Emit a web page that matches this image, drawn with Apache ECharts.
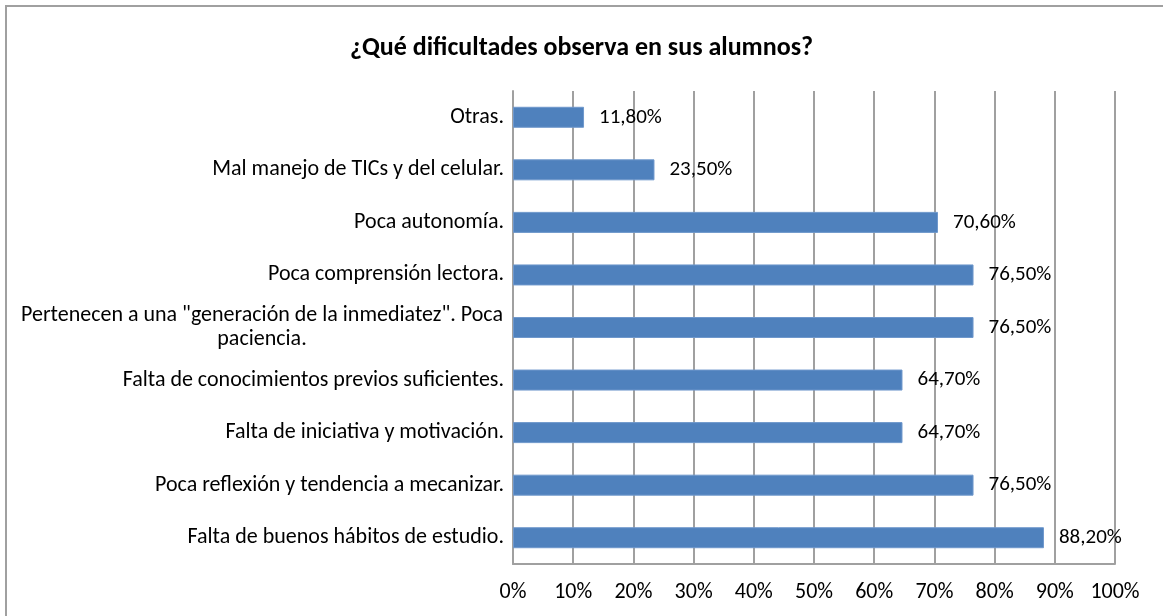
<!DOCTYPE html>
<html>
<head>
<meta charset="utf-8">
<script src="https://cdn.jsdelivr.net/npm/echarts@6/dist/echarts.min.js"></script>
<style>
  html, body { margin: 0; padding: 0; background: #fff; }
  #chart { width: 1163px; height: 616px; }
</style>
</head>
<body>
<div id="chart"></div>
<script>
// categorias de arriba hacia abajo
var categorias = [
  'Otras.',
  'Mal manejo de TICs y del celular.',
  'Poca autonomía.',
  'Poca comprensión lectora.',
  'Pertenecen a una "generación de la inmediatez". Poca\npaciencia.',
  'Falta de conocimientos previos suficientes.',
  'Falta de iniciativa y motivación.',
  'Poca reflexión y tendencia a mecanizar.',
  'Falta de buenos hábitos de estudio.'
];
var porcentajes = [11.8, 23.5, 70.6, 76.5, 76.5, 64.7, 64.7, 76.5, 88.2];
var ticksX = [0, 10, 20, 30, 40, 50, 60, 70, 80, 90, 100];

var fuente = 'Calibri, Carlito, Lato, sans-serif';
var chart = echarts.init(document.getElementById('chart'));

chart.setOption({
  animation: false,
  textStyle: { fontFamily: fuente },
  title: {
    text: '¿Qué dificultades observa en sus alumnos?',
    left: 'center',
    top: 30,
    textStyle: { fontFamily: fuente, fontSize: 26, fontWeight: 'bold', color: '#000' }
  },
  graphic: [{
    type: 'rect',
    shape: { x: 6, y: 6, width: 1180, height: 640 },
    style: { fill: 'none', stroke: '#a0a0a0', lineWidth: 2 }
  }],
  grid: { left: 513, right: 48, top: 91, bottom: 52 },
  xAxis: {
    type: 'value',
    min: ticksX[0],
    max: ticksX[ticksX.length - 1],
    interval: 10,
    axisLine: { show: true, lineStyle: { color: '#a0a0a0', width: 2 } },
    axisTick: { show: false },
    splitLine: { show: true, lineStyle: { color: '#a0a0a0', width: 2 } },
    axisLabel: {
      margin: 17,
      fontSize: 22,
      color: '#000',
      fontFamily: fuente,
      formatter: function (v) { return v + '%'; }
    }
  },
  yAxis: {
    type: 'category',
    inverse: true,
    data: categorias,
    axisLine: { show: true, lineStyle: { color: '#a0a0a0', width: 2 } },
    axisTick: { show: false },
    axisLabel: {
      margin: 9,
      fontSize: 22,
      color: '#000',
      fontFamily: fuente,
      lineHeight: 24,
      formatter: function (v) {
        if (v.indexOf('\n') < 0) return v;
        return v.split('\n').map(function (l) { return '{c|' + l + '}'; }).join('\n');
      },
      rich: {
        c: { width: 484, align: 'center', fontSize: 22, lineHeight: 24, color: '#000', fontFamily: fuente }
      }
    }
  },
  series: [{
    type: 'bar',
    data: porcentajes,
    barWidth: 21,
    itemStyle: { color: '#4F81BD', borderColor: '#6f98cc', borderWidth: 1 },
    label: {
      show: true,
      position: 'right',
      distance: 15,
      fontSize: 21,
      color: '#000',
      fontFamily: fuente,
      formatter: function (p) { return p.value.toFixed(2).replace('.', ',') + '%'; }
    }
  }]
});
</script>
</body>
</html>
